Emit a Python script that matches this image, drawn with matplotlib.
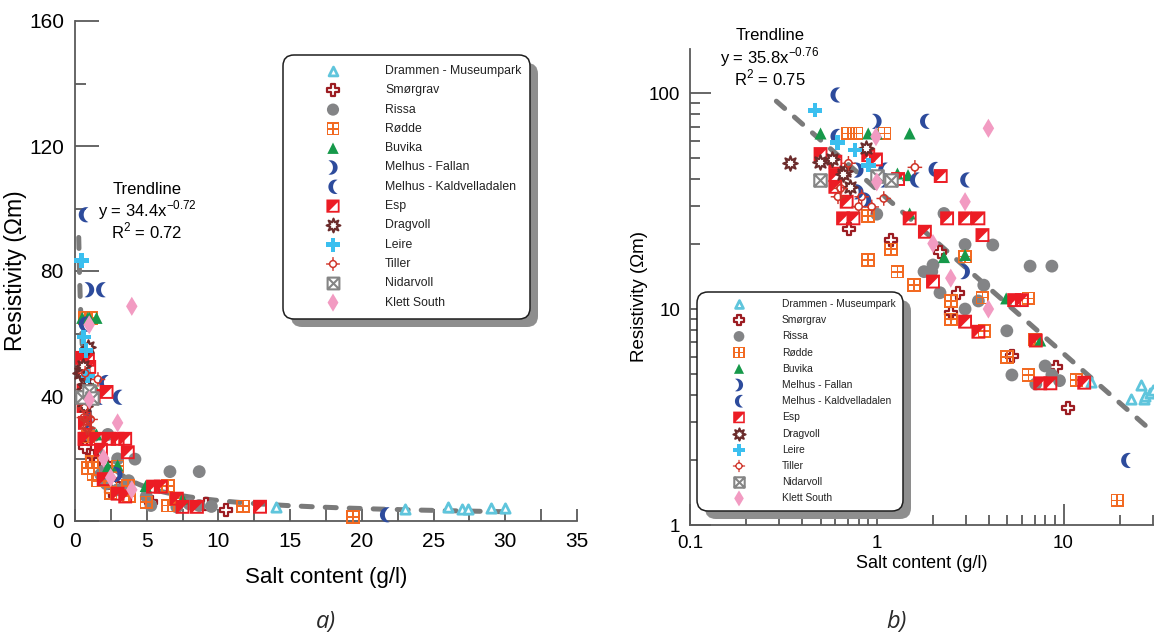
import numpy as np
import matplotlib.pyplot as plt
from matplotlib.path import Path
from matplotlib.patches import FancyBboxPatch
from matplotlib.ticker import MultipleLocator, LogLocator, NullFormatter, FixedLocator, FixedFormatter

plt.rcParams['font.family'] = ['Liberation Sans', 'DejaVu Sans']

# ---- measurements: salt content (g/l) and resistivity (ohm m) per site ----
sites = ["Drammen - Museumpark", "Smørgrav", "Rissa", "Rødde", "Buvika",
         "Melhus - Fallan", "Melhus - Kaldvelladalen", "Esp", "Dragvoll",
         "Leire", "Tiller", "Nidarvoll", "Klett South"]

salt_drammen = [14.0, 23.0, 26.0, 27.0, 27.4, 29.0, 30.0]
res_drammen = [4.6, 3.85, 4.45, 3.85, 3.95, 4.1, 4.2]

salt_smorgrav = [0.71, 1.19, 2.18, 2.49, 2.73, 5.3, 9.1, 10.5]
res_smorgrav = [23.6, 20.9, 18.4, 9.6, 11.9, 6.06, 5.37, 3.5]

salt_rissa = [1.0, 2.29, 2.97, 4.18, 2.0, 1.79, 1.97, 6.62, 8.66, 2.18,
              3.74, 3.5, 2.97, 4.97, 5.29, 7.97, 8.66, 9.51, 7.1]
res_rissa = [27.5, 27.7, 19.9, 19.8, 16.0, 14.9, 14.9, 15.8, 15.8, 11.9,
             12.9, 10.9, 10.0, 7.93, 4.95, 5.45, 4.95, 4.66, 4.5]

salt_rodde = [0.70, 0.78, 1.10, 0.90, 0.90, 1.19, 1.29, 1.58, 2.49, 2.97,
              3.68, 6.49, 2.49, 3.77, 7.05, 4.97, 6.49, 11.7, 19.4]
res_rodde = [65, 65, 65, 27.0, 16.9, 18.9, 14.9, 12.9, 10.9, 17.5,
             11.3, 11.2, 8.96, 7.93, 7.24, 5.98, 4.95, 4.69, 1.3]

salt_buvika = [0.50, 0.90, 1.0, 1.50, 1.29, 1.47, 1.50, 2.29, 2.97, 4.93, 7.5]
res_buvika = [65, 65, 65, 65, 42.4, 41.7, 27.7, 17.4, 17.8, 11.2, 7.15]

salt_fallan = [1.0, 0.80, 1.11, 0.80, 0.88, 2.97]
res_fallan = [74, 44, 39.6, 34.9, 32.0, 14.9]

salt_kald = [0.60, 0.60, 1.81, 1.08, 1.60, 2.01, 2.97, 21.6]
res_kald = [98, 63, 74, 44, 39.6, 44.3, 39.6, 1.99]

salt_esp = [0.50, 0.90, 0.99, 0.60, 0.60, 1.30, 0.60, 0.69, 0.66, 0.75,
            1.50, 1.81, 2.20, 2.38, 2.97, 3.50, 3.68, 2.00, 5.44, 5.98,
            2.97, 3.50, 7.1, 7.5, 8.5, 12.9]
res_esp = [52.2, 51.6, 49.3, 48.1, 41.7, 40.0, 36.8, 31.4, 26.3, 26.3,
           26.3, 22.8, 41.3, 26.3, 26.3, 26.3, 22.0, 13.4, 11.0, 11.0,
           8.74, 7.85, 7.15, 4.53, 4.53, 4.56]

salt_dragvoll = [0.343, 0.495, 0.574, 0.873, 0.68, 0.66, 0.72]
res_dragvoll = [47.3, 47.8, 49.6, 55.8, 43.7, 42.4, 36.8]

salt_leire = [0.467, 0.618, 0.765, 0.90]
res_leire = [83.4, 58.9, 54.5, 46.4]

salt_tiller = [0.705, 1.60, 0.62, 0.64, 0.83, 0.80, 1.09, 0.94]
res_tiller = [47.3, 45.3, 33.1, 36.2, 33.1, 29.8, 32.5, 29.7]

salt_nidarvoll = [0.495, 1.0, 1.19]
res_nidarvoll = [39.6, 41.5, 39.5]

salt_klett = [0.99, 3.96, 1.0, 2.97, 2.0, 2.49, 3.96]
res_klett = [62.8, 68.7, 38.8, 31.4, 20.1, 13.9, 10.0]

salt_all = [salt_drammen, salt_smorgrav, salt_rissa, salt_rodde, salt_buvika,
            salt_fallan, salt_kald, salt_esp, salt_dragvoll, salt_leire,
            salt_tiller, salt_nidarvoll, salt_klett]
res_all = [res_drammen, res_smorgrav, res_rissa, res_rodde, res_buvika,
           res_fallan, res_kald, res_esp, res_dragvoll, res_leire,
           res_tiller, res_nidarvoll, res_klett]

# power-law trendlines y = a * x^b for the linear (a) and log (b) panels
trend_coef = [34.4, 35.8]
trend_exp = [-0.72, -0.76]
trend_r2 = [0.72, 0.75]
trend_from = [0.26, 0.29]
trend_to = [30.0, 28.0]


# ---- marker shapes ----
def rect(x0, y0, x1, y1, cw=False):
    p = [(x0, y0), (x1, y0), (x1, y1), (x0, y1)]
    return p[::-1] if cw else p


def circle(r, n=36, cw=False):
    t = np.linspace(0, 2 * np.pi, n, endpoint=False)
    p = [(r * np.cos(a), r * np.sin(a)) for a in t]
    return p[::-1] if cw else p


def compound(*polys):
    verts, codes = [], []
    for p in polys:
        verts += list(p) + [p[0]]
        codes += [Path.MOVETO] + [Path.LINETO] * (len(p) - 1) + [Path.CLOSEPOLY]
    return Path(verts, codes)


def crescent(flip=False):
    t = np.linspace(-np.radians(106), np.radians(106), 30)
    u = np.linspace(np.radians(66), -np.radians(66), 30)
    xs = np.concatenate([np.cos(t), -0.7 + 1.05 * np.cos(u)]) - 0.36
    ys = np.concatenate([np.sin(t), 1.05 * np.sin(u)])
    if flip:
        xs = -xs
    return compound(list(zip(xs, ys)))


grid_box = compound(rect(-1, -1, 1, 1),
                    rect(0.13, 0.13, 0.74, 0.74, cw=True),
                    rect(-0.74, 0.13, -0.13, 0.74, cw=True),
                    rect(-0.74, -0.74, -0.13, -0.13, cw=True),
                    rect(0.13, -0.74, 0.74, -0.13, cw=True))
half_box = compound(rect(-1, -1, 1, 1),
                    [(-0.58, -0.72), (0.72, 0.58), (0.72, -0.72)])
ring_cross = compound(circle(0.6), circle(0.38, cw=True),
                      rect(-0.1, 0.5, 0.1, 1), rect(-0.1, -1, 0.1, -0.5),
                      rect(0.5, -0.1, 1, 0.1), rect(-1, -0.1, -0.5, 0.1))
box_x = Path([(-1, -1), (1, -1), (1, 1), (-1, 1), (-1, -1),
              (-1, -1), (1, 1), (-1, 1), (1, -1)],
             [Path.MOVETO, Path.LINETO, Path.LINETO, Path.LINETO, Path.CLOSEPOLY,
              Path.MOVETO, Path.LINETO, Path.MOVETO, Path.LINETO])

blue = "#2d4b9c"
styles = [
    dict(marker="^", s=45, facecolors="white", edgecolors="#5fc5dc", linewidths=2.0),
    dict(marker="P", s=75, facecolors="white", edgecolors="#9c1c22", linewidths=1.6),
    dict(marker="o", s=85, facecolors="#838486", edgecolors="none"),
    dict(marker=grid_box, s=95, facecolors="#f26a22", edgecolors="none"),
    dict(marker="^", s=75, facecolors="#16994a", edgecolors="none"),
    dict(marker=crescent(), s=120, facecolors=blue, edgecolors="none"),
    dict(marker=crescent(flip=True), s=120, facecolors=blue, edgecolors="none"),
    dict(marker=half_box, s=100, facecolors="#ec1c24", edgecolors="none"),
    dict(marker=(8, 1, 0), s=110, facecolors="white", edgecolors="#6b2b2b", linewidths=1.5),
    dict(marker="P", s=110, facecolors="#3bbfef", edgecolors="none"),
    dict(marker=ring_cross, s=110, facecolors="#d0352a", edgecolors="none"),
    dict(marker=box_x, s=80, facecolors="white", edgecolors="#858585", linewidths=1.5),
    dict(marker="d", s=95, facecolors="#f29bc2", edgecolors="none"),
]

fig = plt.figure(figsize=(11.54, 6.35), dpi=100)
W, H = 1154, 635
ax1 = fig.add_axes([75 / W, (H - 521) / H, 502 / W, 500 / H])
ax2 = fig.add_axes([690 / W, (H - 525) / H, 464 / W, 476 / H])

spine_col = "#5a5a5a"
for ax in (ax1, ax2):
    for side in ("top", "right"):
        ax.spines[side].set_visible(False)
    for side in ("left", "bottom"):
        ax.spines[side].set_color(spine_col)
        ax.spines[side].set_linewidth(1.3)
    ax.set_facecolor("none")

# trendlines
for ax, a, b, x0, x1 in zip((ax1, ax2), trend_coef, trend_exp, trend_from, trend_to):
    xs = np.geomspace(x0, x1, 400)
    ax.plot(xs, a * xs ** b, color="#7a7a7a", lw=3.6, dashes=(2.2, 2.6),
            dash_capstyle="round", zorder=2)

# measured points on both panels
for ax in (ax1, ax2):
    for sx, ry, st in zip(salt_all, res_all, styles):
        ax.scatter(sx, ry, zorder=3, clip_on=False, **st)

# linear panel
ax1.set_xlim(0, 35)
ax1.set_ylim(0, 160)
ax1.xaxis.set_major_locator(MultipleLocator(5))
ax1.xaxis.set_minor_locator(MultipleLocator(2.5))
ax1.yaxis.set_major_locator(MultipleLocator(40))
ax1.yaxis.set_minor_locator(MultipleLocator(20))
ax1.tick_params(axis="y", which="major", direction="in", length=17, width=1.3, color=spine_col, labelsize=15, pad=8)
ax1.tick_params(axis="y", which="minor", direction="in", length=8, width=1.3, color=spine_col)
ax1.tick_params(axis="x", which="both", direction="in", length=9, width=1.3, color=spine_col, labelsize=15, pad=8)
ax1.set_xlabel("Salt content (g/l)", fontsize=16)
ax1.set_ylabel("Resistivity (Ωm)", fontsize=16.5)
ax1.xaxis.set_label_coords(0.5, (521 - 578) / 500)
ax1.xaxis.label.set_va("center")
ax1.yaxis.set_label_coords((15 - 75) / 502, 0.5)
ax1.yaxis.label.set_va("center")

# logarithmic panel
ax2.set_xscale("log")
ax2.set_yscale("log")
ax2.set_xlim(0.1, 30.5)
ax2.set_ylim(1, 160)
ax2.xaxis.set_major_locator(FixedLocator([0.1, 1, 10]))
ax2.xaxis.set_major_formatter(FixedFormatter(["0.1", "1", "10"]))
ax2.yaxis.set_major_locator(FixedLocator([1, 10, 100]))
ax2.yaxis.set_major_formatter(FixedFormatter(["1", "10", "100"]))
for axis in (ax2.xaxis, ax2.yaxis):
    axis.set_minor_locator(LogLocator(base=10, subs=np.arange(2, 10)))
    axis.set_minor_formatter(NullFormatter())
ax2.tick_params(which="major", direction="in", length=15, width=1.3, color=spine_col, labelsize=13.5, pad=7)
ax2.tick_params(which="minor", direction="in", length=7, width=1.3, color=spine_col)
ax2.set_xlabel("Salt content (g/l)", fontsize=13)
ax2.set_ylabel("Resistivity (Ωm)", fontsize=13.5)
ax2.xaxis.set_label_coords(0.5, (525 - 563) / 476)
ax2.xaxis.label.set_va("center")
ax2.yaxis.set_label_coords((640 - 690) / 464, 0.48)
ax2.yaxis.label.set_va("center")

# overlay in pixel units for keys and annotations
over = fig.add_axes([0, 0, 1, 1], zorder=5)
over.set_xlim(0, W)
over.set_ylim(H, 0)
over.axis("off")


def key_box(x0, y0, x1, y1, mx, tx, row0, step, fs, scale):
    rs = "round,pad=0,rounding_size=11"
    over.add_patch(FancyBboxPatch((x0 + 8, y0 + 8), x1 - x0, y1 - y0, boxstyle=rs,
                                  fc="#8e8e8e", ec="none"))
    over.add_patch(FancyBboxPatch((x0, y0), x1 - x0, y1 - y0, boxstyle=rs,
                                  fc="white", ec="#1e1e1e", lw=1.1))
    for i, (name, st) in enumerate(zip(sites, styles)):
        y = row0 + i * step
        kw = dict(st)
        kw["s"] = st["s"] * scale
        over.scatter([mx], [y], zorder=6, **kw)
        over.text(tx, y, name, fontsize=fs, va="center", ha="left", color="#222222")


key_box(283, 55, 530, 319, 333, 385, 71, 19.3, 8.8, 0.9)
key_box(697, 292, 903, 511, 739, 782, 304, 16.2, 7.4, 0.7)

for cx, cy, a, b, r2 in zip((147, 770), (189, 36), trend_coef, trend_exp, trend_r2):
    over.text(cx, cy, "Trendline", fontsize=12, ha="center", va="center")
    over.text(cx, cy + 21, "y = %.1fx$^{\\mathregular{%.2f}}$" % (a, b),
              fontsize=12, ha="center", va="center")
    over.text(cx, cy + 42, "R$^{\\mathregular{2}}$ = %.2f" % r2,
              fontsize=12, ha="center", va="center")

over.text(326, 622, "a)", fontsize=17, style="italic", family="Open Sans",
          ha="center", va="center", color="#2a2a2a")
over.text(897, 622, "b)", fontsize=17, style="italic", family="Open Sans",
          ha="center", va="center", color="#2a2a2a")

fig.savefig("out.png", dpi=100)
